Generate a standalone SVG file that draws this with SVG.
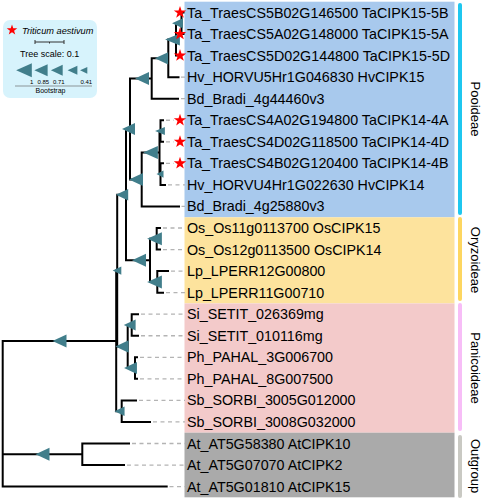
<svg xmlns="http://www.w3.org/2000/svg" xmlns:xlink="http://www.w3.org/1999/xlink" width="483" height="500" viewBox="0 0 483 500">
<style>
.lbl{font-family:"Liberation Sans",Arial,sans-serif;font-size:14.3px;fill:#000}
.grp{font-family:"Liberation Sans",Arial,sans-serif;font-size:13px;fill:#000}
.leg{font-family:"Liberation Sans",Arial,sans-serif;fill:#000}
.br{fill:none;stroke:#000;stroke-width:2;stroke-linecap:square}
.ds{fill:none;stroke:#b4b4b4;stroke-width:1.3;stroke-dasharray:4 3.5}
.tri{fill:#417e8b}
.star{fill:#ff0000}
.bar{fill:none;stroke-width:4;stroke-linecap:round}
</style>
<defs>
<polygon id="t" points="-7,0 7,-6.5 7,6.5"/>
<polygon id="s" points="0,-6.5 1.5,-2.1 6.2,-2 2.45,0.8 3.8,5.25 0,2.6 -3.8,5.25 -2.45,0.8 -6.2,-2 -1.5,-2.1"/>
</defs>
<rect width="483" height="500" fill="#fff"/>
<g id="bands">
<rect x="184.5" y="1.7" width="270" height="215.6" fill="#a8c9ed"/>
<rect x="184.5" y="217.3" width="270" height="86.1" fill="#fde39d"/>
<rect x="184.5" y="303.4" width="270" height="129.3" fill="#f3caca"/>
<rect x="184.5" y="432.7" width="270" height="64.6" fill="#aaaaaa"/>
</g>
<g id="groups">
<g id="g-pooideae"><line class="bar" x1="460" y1="5" x2="460" y2="213" stroke="#1fc7ef"/><text class="grp" text-anchor="middle" transform="translate(471,109) rotate(90)">Pooideae</text></g>
<g id="g-oryzoideae"><line class="bar" x1="460" y1="219" x2="460" y2="299" stroke="#fdd660"/><text class="grp" text-anchor="middle" transform="translate(471,260) rotate(90)">Oryzoideae</text></g>
<g id="g-panicoideae"><line class="bar" x1="460" y1="305" x2="460" y2="429" stroke="#f7bdf7"/><text class="grp" text-anchor="middle" transform="translate(471,368) rotate(90)">Panicoideae</text></g>
<g id="g-outgroup"><line class="bar" x1="460" y1="437" x2="460" y2="496" stroke="#c9c9c3"/><text class="grp" text-anchor="middle" transform="translate(471,466) rotate(90)">Outgroup</text></g>
</g>
<g id="connectors">
<path class="br" d="M2.7,340.9V486.6 M2.7,340.9H116.2 M2.7,454.3H82.3 M2.7,486.6H166.7
M116.2,270.6V411.2 M116.2,270.6H117.2 M116.2,411.2H121.7
M117.2,194.7V346.5 M117.2,194.7H126 M117.2,346.5H127.7
M126,129V260.3 M126,129H130 M126,260.3H150
M130,78.5V179.5 M130,78.5H151.7 M130,179.5H141.7
M151.7,58.3V98.7 M151.7,58.3H168.3 M151.7,98.7H178
M168.3,39.45V77.15 M168.3,39.45H176 M168.3,77.15H178.5
M176,23.3V55.6 M176,23.3H181.5 M176,55.6H180
M181.5,12.5V34.05 M181.5,12.5H183.5 M181.5,34.05H183.5
M141.7,152.6V206.45 M141.7,152.6H159.5 M141.7,206.45H179
M159.5,131V174.1 M159.5,131H160.5 M159.5,174.1H160.5
M160.5,120.25V141.8 M160.5,120.25H163 M160.5,141.8H163
M160.5,163.35V184.9 M160.5,163.35H163 M160.5,184.9H165
M150,238.8V281.9 M150,238.8H156.7 M150,281.9H157.3
M156.7,228V249.55 M156.7,228H160 M156.7,249.55H160
M157.3,271.1V292.65 M157.3,271.1H168 M157.3,292.65H163
M127.7,325V368.1 M127.7,325H131.7 M127.7,368.1H135
M131.7,314.2V335.75 M131.7,314.2H138 M131.7,335.75H138
M135,357.3V378.85 M135,357.3H137 M135,378.85H137
M121.7,400.4V421.95 M121.7,400.4H136 M121.7,421.95H150
M82.3,443.5V465.05 M82.3,443.5H129 M82.3,465.05H124"/>
<path class="ds" d="M166,120.25H174 M166,141.8H174 M166,163.35H174
M181,77.15H185 M181,98.7H185 M168,184.9H185 M181.5,206.45H185
M163,228H185 M163,249.55H185 M171,271.1H185 M166,292.65H185
M141,314.2H185 M141,335.75H185 M140,357.3H185 M140,378.85H185
M139,400.4H185 M153,421.95H185 M132,443.5H185 M127,465.05H185 M169.5,486.6H185"/>
</g>
<g id="internal-nodes">
<use class="tri" xlink:href="#t" href="#t" transform="translate(59.5,340.9)"/>
<use class="tri" xlink:href="#t" href="#t" transform="translate(42.5,454.3)"/>
<use class="tri" xlink:href="#t" href="#t" transform="translate(117,270.6) scale(0.62)"/>
<use class="tri" xlink:href="#t" href="#t" transform="translate(119.5,411.2) scale(0.72)"/>
<use class="tri" xlink:href="#t" href="#t" transform="translate(122,194.7) scale(0.88)"/>
<use class="tri" xlink:href="#t" href="#t" transform="translate(122,346.5) scale(0.95)"/>
<use class="tri" xlink:href="#t" href="#t" transform="translate(129.7,325) scale(0.85)"/>
<use class="tri" xlink:href="#t" href="#t" transform="translate(130.5,368.1) scale(0.92)"/>
<use class="tri" xlink:href="#t" href="#t" transform="translate(128.5,129) scale(0.93)"/>
<use class="tri" xlink:href="#t" href="#t" transform="translate(139,260.3)"/>
<use class="tri" xlink:href="#t" href="#t" transform="translate(154.5,238.8) scale(1.05,1)"/>
<use class="tri" xlink:href="#t" href="#t" transform="translate(154.5,281.9) scale(1.05,1)"/>
<use class="tri" xlink:href="#t" href="#t" transform="translate(142,78.5)"/>
<use class="tri" xlink:href="#t" href="#t" transform="translate(136,179.5)"/>
<use class="tri" xlink:href="#t" href="#t" transform="translate(161.5,58.3) scale(0.95)"/>
<use class="tri" xlink:href="#t" href="#t" transform="translate(172.5,39.45) scale(1.05,0.93)"/>
<use class="tri" xlink:href="#t" href="#t" transform="translate(177.5,23.3) scale(0.78)"/>
<use class="tri" xlink:href="#t" href="#t" transform="translate(150.5,152.6) scale(1.05,1)"/>
<use class="tri" xlink:href="#t" href="#t" transform="translate(160,131) scale(0.7,0.62)"/>
<use class="tri" xlink:href="#t" href="#t" transform="translate(160,174.1) scale(0.5,0.55)"/>
</g>
<g id="leaves">
<g id="n0"><use class="star" xlink:href="#s" href="#s" transform="translate(180,12.5)"/><text class="lbl" x="187" y="17.5">Ta_TraesCS5B02G146500 TaCIPK15-5B</text></g>
<g id="n1"><use class="star" xlink:href="#s" href="#s" transform="translate(180,34.05)"/><text class="lbl" x="187" y="39.05">Ta_TraesCS5A02G148000 TaCIPK15-5A</text></g>
<g id="n2"><use class="star" xlink:href="#s" href="#s" transform="translate(180,55.6)"/><text class="lbl" x="187" y="60.6">Ta_TraesCS5D02G144800 TaCIPK15-5D</text></g>
<g id="n3"><text class="lbl" x="187" y="82.15">Hv_HORVU5Hr1G046830 HvCIPK15</text></g>
<g id="n4"><text class="lbl" x="187" y="103.7">Bd_Bradi_4g44460v3</text></g>
<g id="n5"><use class="star" xlink:href="#s" href="#s" transform="translate(180,120.25)"/><text class="lbl" x="187" y="125.25">Ta_TraesCS4A02G194800 TaCIPK14-4A</text></g>
<g id="n6"><use class="star" xlink:href="#s" href="#s" transform="translate(180,141.8)"/><text class="lbl" x="187" y="146.8">Ta_TraesCS4D02G118500 TaCIPK14-4D</text></g>
<g id="n7"><use class="star" xlink:href="#s" href="#s" transform="translate(180,163.35)"/><text class="lbl" x="187" y="168.35">Ta_TraesCS4B02G120400 TaCIPK14-4B</text></g>
<g id="n8"><text class="lbl" x="187" y="189.9">Hv_HORVU4Hr1G022630 HvCIPK14</text></g>
<g id="n9"><text class="lbl" x="187" y="211.45">Bd_Bradi_4g25880v3</text></g>
<g id="n10"><text class="lbl" x="187" y="233">Os_Os11g0113700 OsCIPK15</text></g>
<g id="n11"><text class="lbl" x="187" y="254.55">Os_Os12g0113500 OsCIPK14</text></g>
<g id="n12"><text class="lbl" x="187" y="276.1">Lp_LPERR12G00800</text></g>
<g id="n13"><text class="lbl" x="187" y="297.65">Lp_LPERR11G00710</text></g>
<g id="n14"><text class="lbl" x="187" y="319.2">Si_SETIT_026369mg</text></g>
<g id="n15"><text class="lbl" x="187" y="340.75">Si_SETIT_010116mg</text></g>
<g id="n16"><text class="lbl" x="187" y="362.3">Ph_PAHAL_3G006700</text></g>
<g id="n17"><text class="lbl" x="187" y="383.85">Ph_PAHAL_8G007500</text></g>
<g id="n18"><text class="lbl" x="187" y="405.4">Sb_SORBI_3005G012000</text></g>
<g id="n19"><text class="lbl" x="187" y="426.95">Sb_SORBI_3008G032000</text></g>
<g id="n20"><text class="lbl" x="187" y="448.5">At_AT5G58380 AtCIPK10</text></g>
<g id="n21"><text class="lbl" x="187" y="470.05">At_AT5G07070 AtCIPK2</text></g>
<g id="n22"><text class="lbl" x="187" y="491.6">At_AT5G01810 AtCIPK15</text></g>
</g>
<g id="legend">
<rect x="3" y="20" width="94" height="78" rx="7" fill="#d7f3fc"/>
<use class="star" xlink:href="#s" href="#s" transform="translate(12,30) scale(0.85)"/>
<text class="leg" x="22" y="33.5" font-size="9.2" font-style="italic">Triticum aestivum</text>
<path d="M35,42H64 M35,40V44 M64,40V44 M49.5,42V43.5" stroke="#333" stroke-width="1" fill="none"/>
<text class="leg" x="20" y="57" font-size="9">Tree scale: 0.1</text>
<use class="tri" xlink:href="#t" href="#t" transform="translate(24,70.3) scale(1.12,1.08)"/>
<use class="tri" xlink:href="#t" href="#t" transform="translate(41,70.3) scale(0.95,0.92)"/>
<use class="tri" xlink:href="#t" href="#t" transform="translate(56.8,70.3) scale(0.84)"/>
<use class="tri" xlink:href="#t" href="#t" transform="translate(72.5,70.3) scale(0.7)"/>
<use class="tri" xlink:href="#t" href="#t" transform="translate(83.7,70.3) scale(0.52)"/>
<text class="leg" font-size="6" y="84"><tspan x="30">1</tspan><tspan x="37.5">0.85</tspan><tspan x="53">0.71</tspan><tspan x="80.5">0.41</tspan></text>
<line x1="15" y1="86" x2="92" y2="86" stroke="#8c9698" stroke-width="1.2"/>
<text class="leg" x="50.5" y="92.5" font-size="7" text-anchor="middle">Bootstrap</text>
</g>
</svg>
